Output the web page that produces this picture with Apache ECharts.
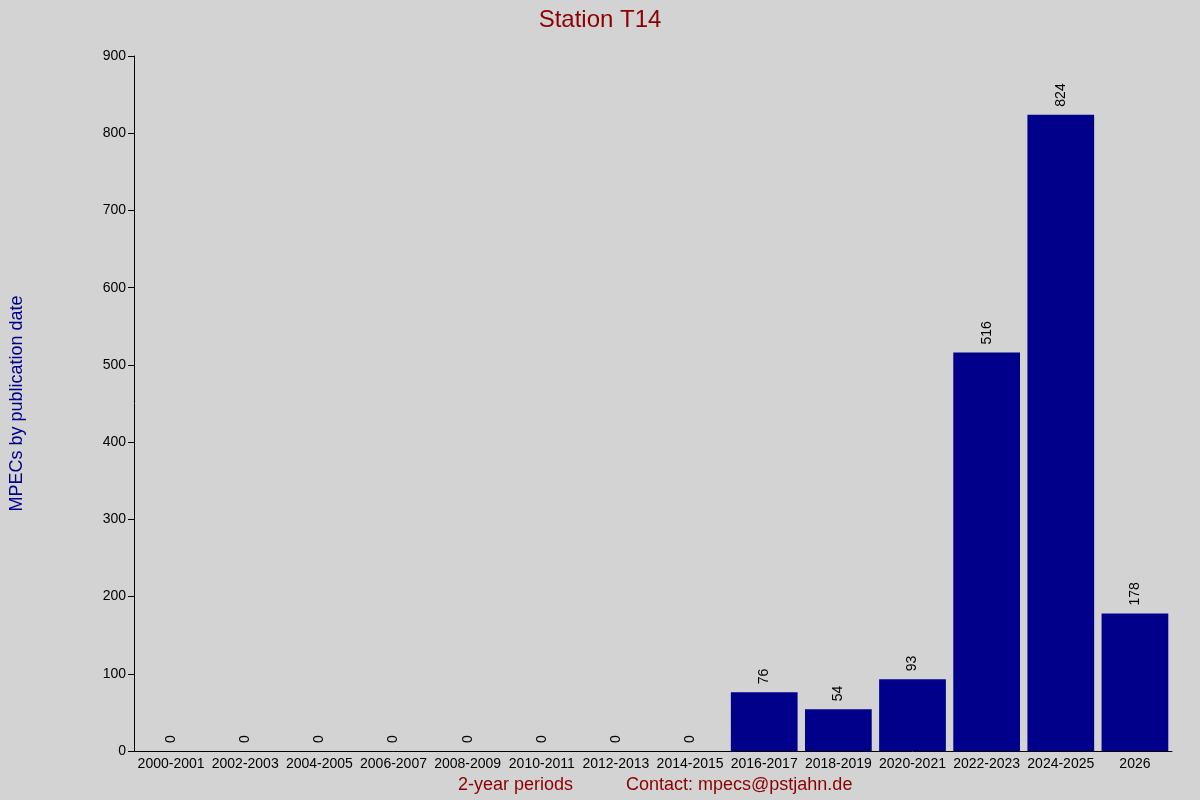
<!DOCTYPE html><html><head><meta charset="utf-8"><script src="https://cdn.jsdelivr.net/npm/echarts@6/dist/echarts.min.js"></script></head><body style="margin:0;background:#d3d3d3"><div id="c" style="width:1200px;height:800px"></div><script>
const categories=["2000-2001","2002-2003","2004-2005","2006-2007","2008-2009","2010-2011","2012-2013","2014-2015","2016-2017","2018-2019","2020-2021","2022-2023","2024-2025","2026"];
const values=[0,0,0,0,0,0,0,0,76,54,93,516,824,178];
const yTicks=[0,100,200,300,400,500,600,700,800,900];
const ch=echarts.init(document.getElementById('c'));
ch.setOption({backgroundColor:'#d3d3d3',animation:false,
title:{text:'Station T14',left:'center',top:3,textStyle:{color:'#8b0000',fontSize:24,fontWeight:'normal',fontFamily:'Liberation Sans'}},
grid:{left:126,right:28,top:56,bottom:49},
xAxis:{type:'category',data:categories,axisLine:{lineStyle:{color:'#000'}},axisTick:{show:false},axisLabel:{color:'#000',fontSize:14,fontFamily:'Liberation Sans',interval:0,margin:6}},
yAxis:{type:'value',min:0,max:900,interval:100,axisLine:{show:true,lineStyle:{color:'#000'}},axisTick:{show:true,inside:false,length:6,lineStyle:{color:'#000'}},splitLine:{show:false},axisLabel:{color:'#000',fontSize:14,fontFamily:'Liberation Sans',formatter:v=>yTicks.includes(v)?v:''},
name:'MPECs by publication date',nameLocation:'middle',nameGap:108,nameTextStyle:{color:'#00008b',fontSize:18,fontFamily:'Liberation Sans'}},
series:[{type:'bar',data:values,barCategoryGap:'10%',itemStyle:{color:'#00008b'},label:{show:true,position:'top',rotate:90,align:'left',verticalAlign:'middle',distance:8,color:'#000',fontSize:14,fontFamily:'Liberation Sans'}}],
graphic:[{type:'text',left:458,top:776,style:{text:'2-year periods',fill:'#8b0000',font:'18px Liberation Sans'}},
{type:'text',left:626,top:776,style:{text:'Contact: mpecs@pstjahn.de',fill:'#8b0000',font:'18px Liberation Sans'}}]});
</script></body></html>
